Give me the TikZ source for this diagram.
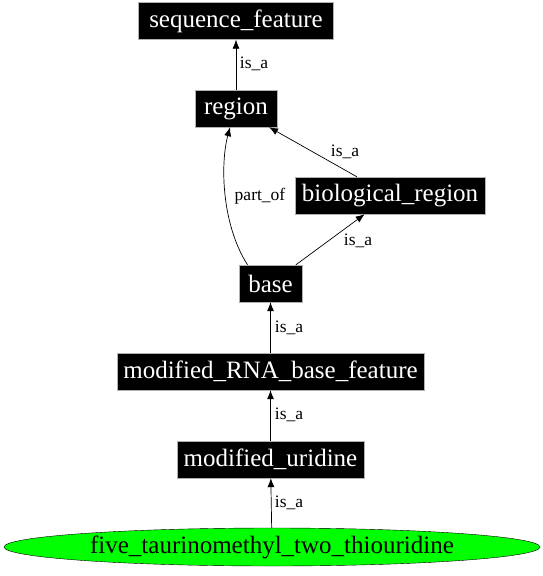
\documentclass[tikz,border=0pt]{standalone}
\usepackage{fontspec}
\setmainfont{Liberation Serif}
\usetikzlibrary{arrows.meta,shapes.geometric}
\begin{document}
\begin{tikzpicture}[x=1pt,y=1pt,
  termbox/.style={fill=black,text=white,font=\fontsize{25pt}{28pt}\selectfont,minimum height=37pt,inner xsep=0pt,inner ysep=0pt,draw=gray!60,line width=0.4pt},
  rel/.style={draw=black,line width=0.7pt,-{Latex[length=9pt,width=7pt]}},
  lab/.style={font=\fontsize{17.5pt}{20pt}\selectfont,inner sep=1pt}]
\useasboundingbox (0,0) rectangle (542,-576);
\node[termbox,minimum width=195pt] (sf) at (236,-21) {sequence\_feature};
\node[termbox,minimum width=82pt] (reg) at (236,-108.5) {region};
\node[termbox,minimum width=190pt] (bio) at (390,-195.5) {biological\_region};
\node[termbox,minimum width=63pt] (base) at (270.5,-283.5) {base};
\node[termbox,minimum width=307pt] (mrb) at (270.5,-371.5) {modified\_RNA\_base\_feature};
\node[termbox,minimum width=187pt] (mu) at (270.5,-459.5) {modified\_uridine};
\node[ellipse,draw=black,fill=green,minimum width=536pt,minimum height=38pt,inner sep=0pt,font=\fontsize{25pt}{28pt}\selectfont] (ft) at (272,-547) {five\_taurinomethyl\_two\_thiouridine};
\draw[rel] (reg) -- (sf);
\draw[rel] (bio) -- (reg);
\draw[rel] (base) -- (bio);
\draw[rel] ([xshift=-23pt]base.north) .. controls (222,-225) and (220,-165) .. ([xshift=-6pt]reg.south);
\draw[rel] (mrb) -- (base);
\draw[rel] (mu) -- (mrb);
\draw[rel] (ft) -- (mu);
\node[lab] (l1) at (254,-64) {is\_a};
\node[lab] (l2) at (345,-152) {is\_a};
\node[lab] (l3) at (260,-196) {part\_of};
\node[lab] (l4) at (358,-241) {is\_a};
\node[lab] (l5) at (289,-328) {is\_a};
\node[lab] (l6) at (289,-415) {is\_a};
\node[lab] (l7) at (289,-503) {is\_a};
\end{tikzpicture}
\end{document}
